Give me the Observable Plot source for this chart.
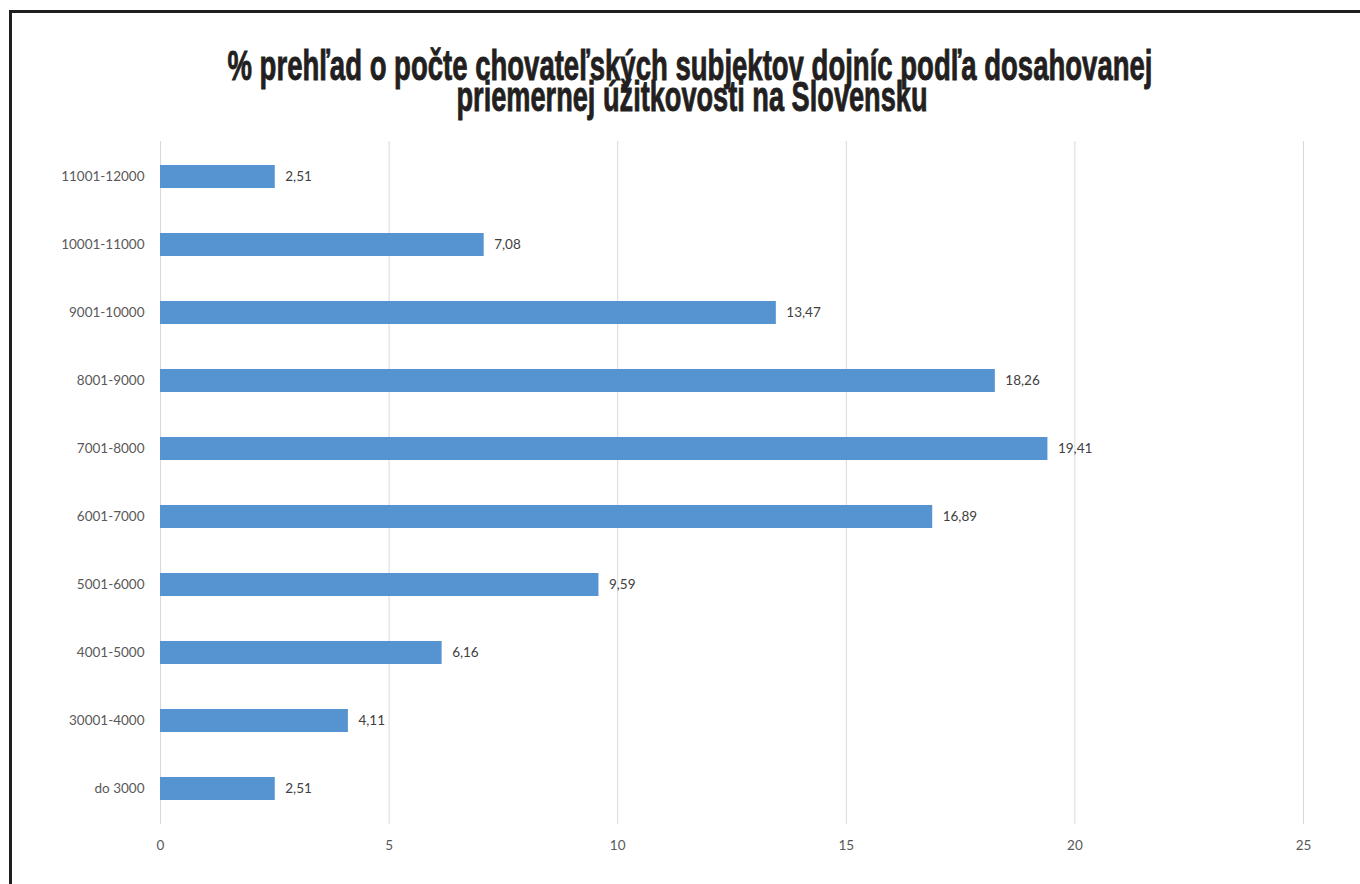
<!DOCTYPE html>
<html>
<head>
<meta charset="utf-8">
<script src="https://cdn.jsdelivr.net/npm/d3@7"></script>
<script src="https://cdn.jsdelivr.net/npm/@observablehq/plot@0.6"></script>
<style>
  html, body { margin: 0; padding: 0; background: #fff; }
  #page { position: relative; width: 1360px; height: 884px; overflow: hidden; background: #fff; }
  #frame { position: absolute; left: 9px; top: 10px; width: 1400px; height: 900px;
           border-left: 3px solid #1e1e1e; border-top: 3px solid #1e1e1e; }
  #title { position: absolute; left: 0; top: 0; }
  #chart { position: absolute; left: 0; top: 120px; }
</style>
</head>
<body>
<div id="page">
  <div id="frame"></div>
  <svg id="title" width="1360" height="125" xmlns="http://www.w3.org/2000/svg">
    <g font-family="'Liberation Sans Narrow', 'Liberation Sans', sans-serif" font-weight="bold" font-size="42" fill="#231f20" stroke="#231f20" stroke-width="0.9" text-anchor="middle">
      <text id="t1" x="690" y="80" textLength="925" lengthAdjust="spacingAndGlyphs"></text>
      <text id="t2" x="692" y="111" textLength="471" lengthAdjust="spacingAndGlyphs"></text>
    </g>
  </svg>
  <div id="chart"></div>
</div>
<script>
const titleLines = [
  "% prehľad o počte chovateľských subjektov dojníc podľa dosahovanej",
  "priemernej úžitkovosti na Slovensku"
];
const categories = ["11001-12000", "10001-11000", "9001-10000", "8001-9000", "7001-8000",
                    "6001-7000", "5001-6000", "4001-5000", "30001-4000", "do 3000"];
const values = [2.51, 7.08, 13.47, 18.26, 19.41, 16.89, 9.59, 6.16, 4.11, 2.51];
const xTicks = [0, 5, 10, 15, 20, 25];

document.getElementById("t1").textContent = titleLines[0];
document.getElementById("t2").textContent = titleLines[1];

const data = categories.map((c, i) => ({cat: c, val: values[i]}));
const fmt = v => v.toFixed(2).replace(".", ",");

const chart = Plot.plot({
  width: 1360,
  height: 764,
  marginTop: 21,
  marginBottom: 60,
  marginLeft: 160,
  marginRight: 57,
  style: {fontFamily: "Lato, 'Open Sans', sans-serif", fontSize: "13.5px", color: "#595959", background: "transparent"},
  x: {domain: [0, 25], ticks: xTicks, label: null},
  y: {domain: categories, paddingInner: 0.66, paddingOuter: 0.33, label: null},
  marks: [
    Plot.gridX(xTicks, {stroke: "#d9d9d9", strokeOpacity: 1, strokeWidth: 1}),
    Plot.barX(data, {x: "val", y: "cat", fill: "#5694d1"}),
    Plot.text(data, {x: "val", y: "cat", text: d => fmt(d.val), dx: 10, textAnchor: "start", fill: "#404040", fontSize: 13.5}),
    Plot.axisX(xTicks, {tickSize: 0, tickPadding: 16, tickFormat: d => String(d), fill: "#595959", label: null}),
    Plot.axisY({tickSize: 0, tickPadding: 16, fill: "#595959", label: null})
  ]
});
document.getElementById("chart").appendChild(chart);
</script>
</body>
</html>
